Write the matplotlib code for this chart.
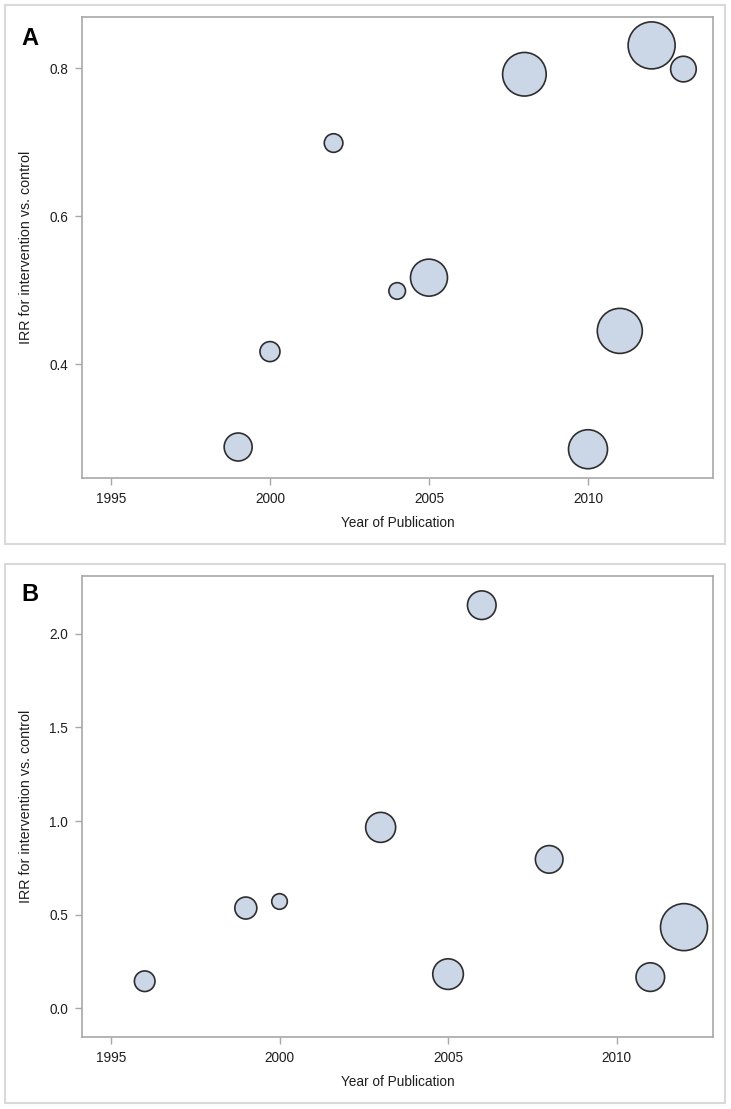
import matplotlib.pyplot as plt
from matplotlib.patches import Rectangle

plt.rcParams['font.family'] = ['Liberation Sans', 'DejaVu Sans']

# Panel A
years_a = [1999, 2000, 2002, 2004, 2005, 2008, 2010, 2011, 2012, 2013]
irr_a = [0.288, 0.417, 0.699, 0.499, 0.517, 0.792, 0.285, 0.445, 0.831, 0.799]
weight_a = [14.0, 10.0, 9.3, 8.3, 18.5, 21.8, 19.5, 22.5, 23.5, 12.8]

# Panel B
years_b = [1996, 1999, 2000, 2003, 2005, 2006, 2008, 2011, 2012]
irr_b = [0.144, 0.535, 0.57, 0.966, 0.182, 2.153, 0.795, 0.166, 0.433]
weight_b = [10.3, 11.0, 7.8, 15.0, 15.3, 14.3, 13.8, 14.3, 23.5]

xticks_a = [1995, 2000, 2005, 2010]
yticks_a = [0.4, 0.6, 0.8]
xticks_b = [1995, 2000, 2005, 2010]
yticks_b = [0.0, 0.5, 1.0, 1.5, 2.0]

W, H = 731, 1109
fig = plt.figure(figsize=(W / 100, H / 100), dpi=100)

FILL = '#cbd6e6'
EDGE = '#2e2e2e'
SPINE = '#a8a8a8'
TXT = '#1e1e1e'


def bubble_area(w):
    # radius in px -> marker area in pt^2
    return [(2 * r * 0.72) ** 2 for r in w]


def panel(top, years, irr, weight, xticks, yticks, xlim, ylim, letter, letter_y):
    ax = fig.add_axes([82 / W, 1 - (top + 461) / H, 631 / W, 461 / H])
    ax.scatter(years, irr, s=bubble_area(weight), c=FILL, edgecolors=EDGE,
               linewidths=1.2, zorder=3, clip_on=False)
    ax.set_xlim(*xlim)
    ax.set_ylim(*ylim)
    ax.set_xticks(xticks)
    ax.set_yticks(yticks)
    ax.set_yticklabels(['{:.1f}'.format(v) for v in yticks])
    for s in ax.spines.values():
        s.set_color(SPINE)
        s.set_linewidth(1.2)
    ax.tick_params(direction='out', length=5, width=1, color=SPINE,
                   labelsize=9.8, labelcolor=TXT, pad=5)
    ax.set_xlabel('Year of Publication', fontsize=9.8, color=TXT, labelpad=7)
    ax.set_ylabel('IRR for intervention vs. control', fontsize=10.3,
                  color=TXT, labelpad=12)
    fig.text(21 / W, 1 - letter_y / H, letter, fontsize=17,
             fontweight='bold', va='baseline', ha='left')
    return ax


panel(17, years_a, irr_a, weight_a, xticks_a, yticks_a,
      (1994.09, 2013.93), (0.2461, 0.8694), 'A', 45)
panel(576, years_b, irr_b, weight_b, xticks_b, yticks_b,
      (1994.14, 2012.86), (-0.154, 2.309), 'B', 601)

# outer panel frames
for y0 in (5, 564):
    fig.add_artist(Rectangle((5 / W, 1 - (y0 + 539) / H), 720 / W, 539 / H,
                             transform=fig.transFigure, fill=False,
                             edgecolor='#d9d9d9', linewidth=1.5))

fig.savefig('out.png', dpi=100)
